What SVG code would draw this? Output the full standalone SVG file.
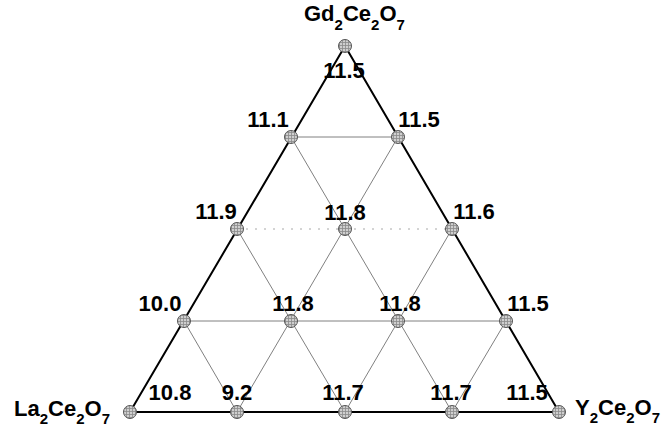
<svg xmlns="http://www.w3.org/2000/svg" width="670" height="426" viewBox="0 0 670 426">
<defs>
<pattern id="hatch" width="3" height="3" patternUnits="userSpaceOnUse">
<rect width="3" height="3" fill="#cfcfcf"/>
<path d="M0 0.5H3M0.5 0V3" stroke="#8a8a8a" stroke-width="0.8"/>
</pattern>
</defs>
<style>
.edge{stroke:#000;stroke-width:2;fill:none;stroke-linecap:round}
.grid{stroke:#808080;stroke-width:1;fill:none}
.dot{stroke:#a8a8a8;stroke-width:1;stroke-dasharray:2 7;fill:none}
.node{fill:url(#hatch);stroke:#555;stroke-width:1}
.val{font-family:"Liberation Sans",Arial,sans-serif;font-weight:bold;font-size:22px;fill:#000;text-anchor:middle}
.lbl{font-family:"Liberation Sans",Arial,sans-serif;font-weight:bold;font-size:22px;fill:#000}
.sub{font-size:15px}
</style>
<rect width="670" height="426" fill="#fff"/>
<g id="connectors">
<line class="grid" x1="291" y1="137" x2="398" y2="137"/>
<line class="dot" x1="237" y1="229" x2="452" y2="229"/>
<line class="grid" x1="184" y1="321" x2="506" y2="321"/>
<line class="grid" x1="237" y1="412" x2="398" y2="137"/>
<line class="grid" x1="345" y1="412" x2="452" y2="229"/>
<line class="grid" x1="452" y1="412" x2="506" y2="321"/>
<line class="grid" x1="452" y1="412" x2="291" y2="137"/>
<line class="grid" x1="345" y1="412" x2="237" y2="229"/>
<line class="grid" x1="237" y1="412" x2="184" y2="321"/>
<path class="edge" d="M345 46L130 412H559Z"/>
</g>
<g id="n-top"><circle class="node" cx="345" cy="46" r="6.5"/><text class="val" x="344" y="78">11.5</text></g>
<g id="n-r4a"><circle class="node" cx="291" cy="137" r="6.5"/><text class="val" x="268" y="127">11.1</text></g>
<g id="n-r4b"><circle class="node" cx="398" cy="137" r="6.5"/><text class="val" x="419" y="127">11.5</text></g>
<g id="n-r3a"><circle class="node" cx="237" cy="229" r="6.5"/><text class="val" x="216" y="219">11.9</text></g>
<g id="n-r3b"><circle class="node" cx="345" cy="229" r="6.5"/><text class="val" x="345" y="220">11.8</text></g>
<g id="n-r3c"><circle class="node" cx="452" cy="229" r="6.5"/><text class="val" x="474" y="219">11.6</text></g>
<g id="n-r2a"><circle class="node" cx="184" cy="321" r="6.5"/><text class="val" x="160" y="311">10.0</text></g>
<g id="n-r2b"><circle class="node" cx="291" cy="321" r="6.5"/><text class="val" x="293" y="311">11.8</text></g>
<g id="n-r2c"><circle class="node" cx="398" cy="321" r="6.5"/><text class="val" x="400" y="311">11.8</text></g>
<g id="n-r2d"><circle class="node" cx="506" cy="321" r="6.5"/><text class="val" x="528" y="311">11.5</text></g>
<g id="n-b1"><circle class="node" cx="130" cy="412" r="6.5"/><text class="lbl" x="14" y="416">La<tspan class="sub" dy="8">2</tspan><tspan dy="-8">Ce</tspan><tspan class="sub" dy="8">2</tspan><tspan dy="-8">O</tspan><tspan class="sub" dy="8">7</tspan></text><text class="val" x="170" y="400">10.8</text></g>
<g id="n-b2"><circle class="node" cx="237" cy="412" r="6.5"/><text class="val" x="237" y="400">9.2</text></g>
<g id="n-b3"><circle class="node" cx="345" cy="412" r="6.5"/><text class="val" x="343" y="400">11.7</text></g>
<g id="n-b4"><circle class="node" cx="452" cy="412" r="6.5"/><text class="val" x="451" y="400">11.7</text></g>
<g id="n-b5"><circle class="node" cx="559" cy="412" r="6.5"/><text class="val" x="527" y="400">11.5</text><text class="lbl" x="575" y="415">Y<tspan class="sub" dy="8">2</tspan><tspan dy="-8">Ce</tspan><tspan class="sub" dy="8">2</tspan><tspan dy="-8">O</tspan><tspan class="sub" dy="8">7</tspan></text></g>
<g id="title"><text class="lbl" x="304" y="21">Gd<tspan class="sub" dy="9">2</tspan><tspan dy="-9">Ce</tspan><tspan class="sub" dy="9">2</tspan><tspan dy="-9">O</tspan><tspan class="sub" dy="9">7</tspan></text></g>
</svg>
